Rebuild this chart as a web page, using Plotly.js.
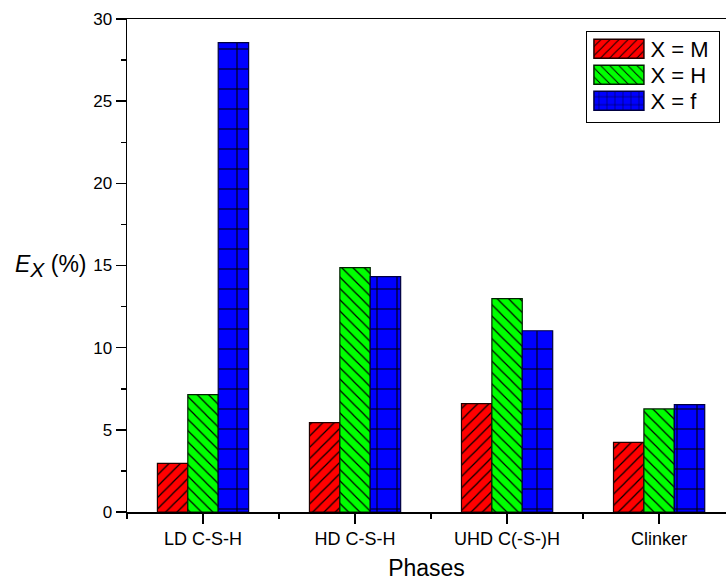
<!DOCTYPE html>
<html>
<head>
<meta charset="utf-8">
<script src="https://cdn.plot.ly/plotly-3.0.1.min.js"></script>
<style>html,body{margin:0;padding:0;background:#fff;}#chart{width:726px;height:582px;}</style>
</head>
<body>
<div id="chart"></div>
<script>
var phases = ["LD C-S-H", "HD C-S-H", "UHD C(-S-)H", "Clinker"];
var positions = [0, 1, 2, 3];
var seriesNames = ["X = M", "X = H", "X = f"];
var valuesM = [2.96, 5.44, 6.59, 4.24];
var valuesH = [7.14, 14.87, 12.98, 6.27];
var valuesF = [28.56, 14.32, 11.03, 6.53];

var FONT = "Liberation Sans, Arial, sans-serif";

function barTrace(name, vals, color, lineColor, shape, size, sol) {
  return {
    type: "bar",
    name: name,
    x: positions,
    y: vals,
    marker: {
      color: color,
      line: {color: lineColor, width: 1.2},
      pattern: {shape: shape, fgcolor: "#000000", bgcolor: color, size: size, solidity: sol, fillmode: "replace"}
    },
    hoverinfo: "skip"
  };
}

var data = [
  barTrace(seriesNames[0], valuesM, "#FF0000", "#200000", "/", 8, 0.15),
  barTrace(seriesNames[1], valuesH, "#00FF00", "#002000", "\\", 8, 0.15),
  barTrace(seriesNames[2], valuesF, "#0000FF", "#000040", "+", 20, 0.1)
];

var layout = {
  width: 726,
  height: 582,
  margin: {l: 127, r: 0, t: 19, b: 70},
  paper_bgcolor: "#ffffff",
  plot_bgcolor: "#ffffff",
  font: {family: FONT, color: "#000000"},
  barmode: "group",
  bargap: 0.4,
  bargroupgap: 0,
  showlegend: true,
  legend: {
    x: 0.767, y: 0.976, xanchor: "left", yanchor: "top",
    bordercolor: "#000000", borderwidth: 1,
    bgcolor: "#ffffff",
    font: {family: FONT, size: 22, color: "#000000"},
    tracegroupgap: 0,
    itemwidth: 53
  },
  xaxis: {
    range: [-0.5, 3.44],
    tickmode: "array",
    tickvals: positions,
    ticktext: phases,
    ticks: "outside",
    ticklen: 10,
    tickwidth: 1.5,
    tickcolor: "#000000",
    showline: true,
    linecolor: "#000000",
    linewidth: 1.5,
    mirror: true,
    showgrid: false,
    zeroline: false,
    tickfont: {family: FONT, size: 18, color: "#000000"},
    minor: {tickmode: "array", tickvals: [-0.5, 0.5, 1.5, 2.5], ticks: "outside", ticklen: 5, tickwidth: 1.5, tickcolor: "#000000", showgrid: false},
    title: {text: "Phases", font: {family: FONT, size: 23, color: "#000000"}, standoff: 12}
  },
  yaxis: {
    range: [0, 30],
    tickmode: "linear",
    tick0: 0,
    dtick: 5,
    ticks: "outside",
    ticklen: 10,
    tickwidth: 1.5,
    tickcolor: "#000000",
    showline: true,
    linecolor: "#000000",
    linewidth: 1.5,
    mirror: false,
    showgrid: false,
    zeroline: false,
    tickfont: {family: FONT, size: 17, color: "#000000"},
    minor: {dtick: 2.5, ticks: "outside", ticklen: 5, tickwidth: 1.5, tickcolor: "#000000", showgrid: false}
  },
  annotations: [{
    xref: "paper", yref: "paper",
    x: -0.19, y: 0.5,
    xanchor: "left", yanchor: "middle",
    showarrow: false,
    text: "<i>E</i><sub><span style=\"font-size:21px\"><i>X</i></span></sub> (%)",
    font: {family: FONT, size: 23, color: "#000000"}
  }]
};

function adjustLegend() {
  var gd = document.getElementById("chart");
  var bg = gd.querySelector(".legend .bg");
  if (!bg) return;
  var lb = bg.getBoundingClientRect();
  // tighten row spacing
  var items = gd.querySelectorAll(".legend .traces");
  var firstCenter = lb.top + 18.5;
  items.forEach(function (g, i) {
    var t = g.querySelector("text");
    var tr = t.getBoundingClientRect();
    var cur = tr.top + tr.height / 2;
    var target = firstCenter + 26 * i;
    var m = /translate\(\s*([-\d.e]+)[ ,]+([-\d.e]+)\s*\)/.exec(g.getAttribute("transform") || "");
    if (m) {
      var nx = parseFloat(m[1]), ny = parseFloat(m[2]) + (target - cur);
      g.setAttribute("transform", "translate(" + nx + "," + ny + ")");
    }
  });
  bg.setAttribute("height", 91);
  bg.setAttribute("width", 133);
  // enlarge swatches
  var paths = gd.querySelectorAll(".legend .legendpoints path");
  paths.forEach(function (p) {
    var r = p.getBoundingClientRect();
    var cx = r.left + r.width / 2;
    var a = (lb.left + 7) - cx;
    var w = 50, h = 9.5;
    p.setAttribute("d", "M" + (a + w) + "," + h + "H" + a + "V" + (-h) + "H" + (a + w) + "Z");
    p.style.strokeWidth = "1.5px";
  });
}

Plotly.newPlot("chart", data, layout, {displayModeBar: false, staticPlot: true}).then(adjustLegend);
</script>
</body>
</html>
